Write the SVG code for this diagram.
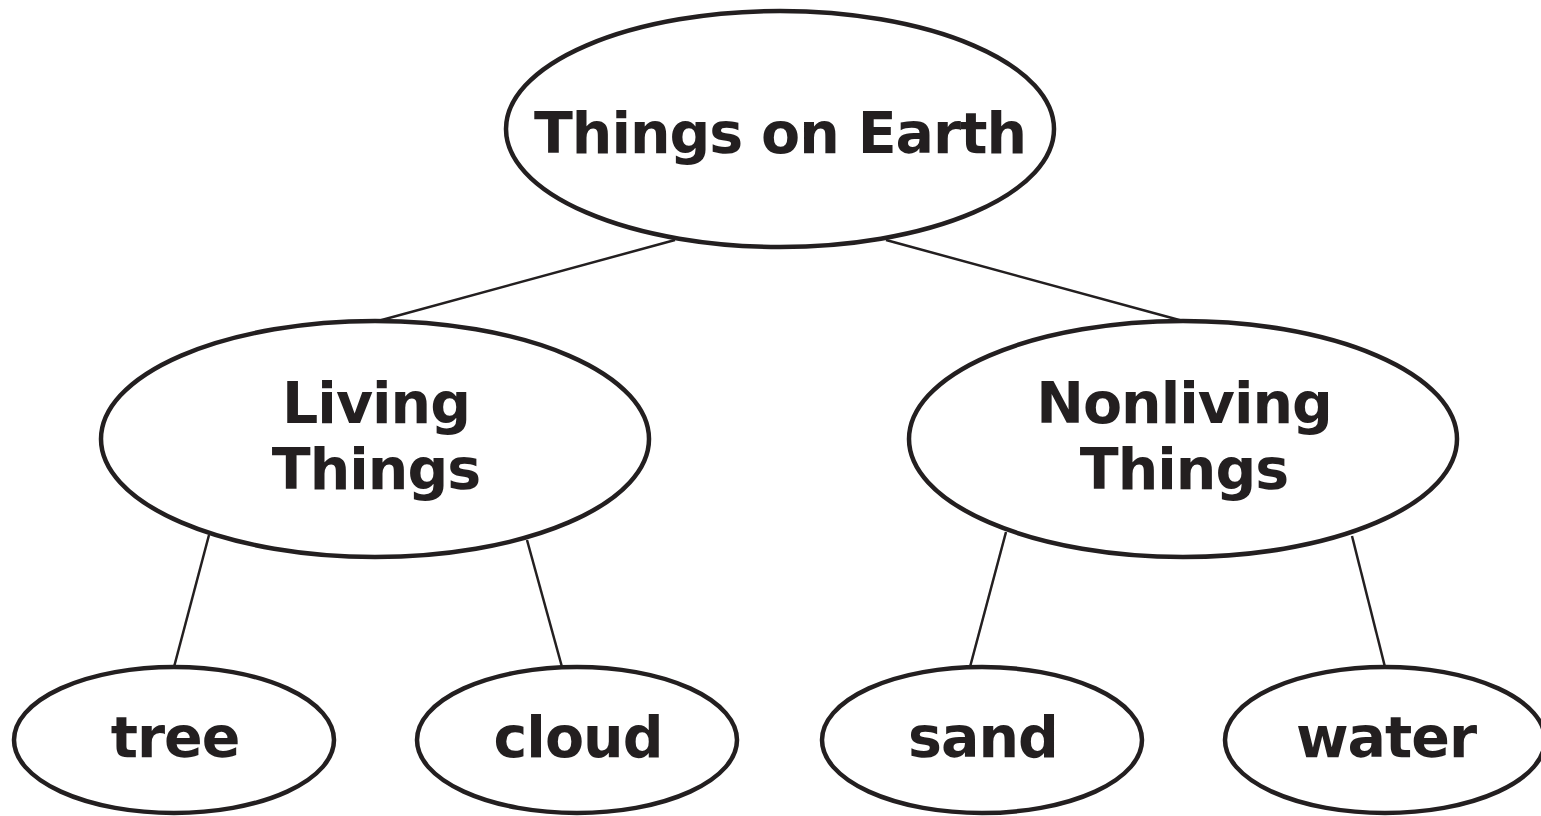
<svg xmlns="http://www.w3.org/2000/svg" width="1541" height="816" viewBox="0 0 1541 816">
<style>
.n{fill:#fff;stroke:#231f20;stroke-width:4.5}
.c line{stroke:#231f20;stroke-width:2.5}
text{font-family:"DejaVu Sans",Verdana,sans-serif;font-weight:bold;font-size:57px;letter-spacing:-1px;fill:#231f20;text-anchor:middle}
</style>
<rect width="1541" height="816" fill="#fff"/>
<g class="c" id="connectors">
<line x1="675" y1="240" x2="378" y2="321"/>
<line x1="886" y1="240" x2="1183" y2="321"/>
<line x1="209" y1="535" x2="174" y2="667"/>
<line x1="527" y1="540" x2="562" y2="667"/>
<line x1="1006" y1="532" x2="970" y2="667"/>
<line x1="1352" y1="536" x2="1385" y2="667"/>
</g>
<g id="root"><ellipse class="n" cx="780" cy="129" rx="274" ry="118"/><text x="780" y="153">Things on Earth</text></g>
<g id="living"><ellipse class="n" cx="375" cy="439" rx="274" ry="118"/><text x="376" y="423">Living</text><text x="376" y="489">Things</text></g>
<g id="nonliving"><ellipse class="n" cx="1183" cy="439" rx="274" ry="118"/><text x="1184" y="423">Nonliving</text><text x="1184" y="489">Things</text></g>
<g id="tree"><ellipse class="n" cx="174" cy="740" rx="160" ry="73"/><text x="175" y="757">tree</text></g>
<g id="cloud"><ellipse class="n" cx="577" cy="740" rx="160" ry="73"/><text x="578" y="757">cloud</text></g>
<g id="sand"><ellipse class="n" cx="982" cy="740" rx="160" ry="73"/><text x="983" y="757">sand</text></g>
<g id="water"><ellipse class="n" cx="1385" cy="740" rx="160" ry="73"/><text x="1386" y="757">water</text></g>
</svg>
